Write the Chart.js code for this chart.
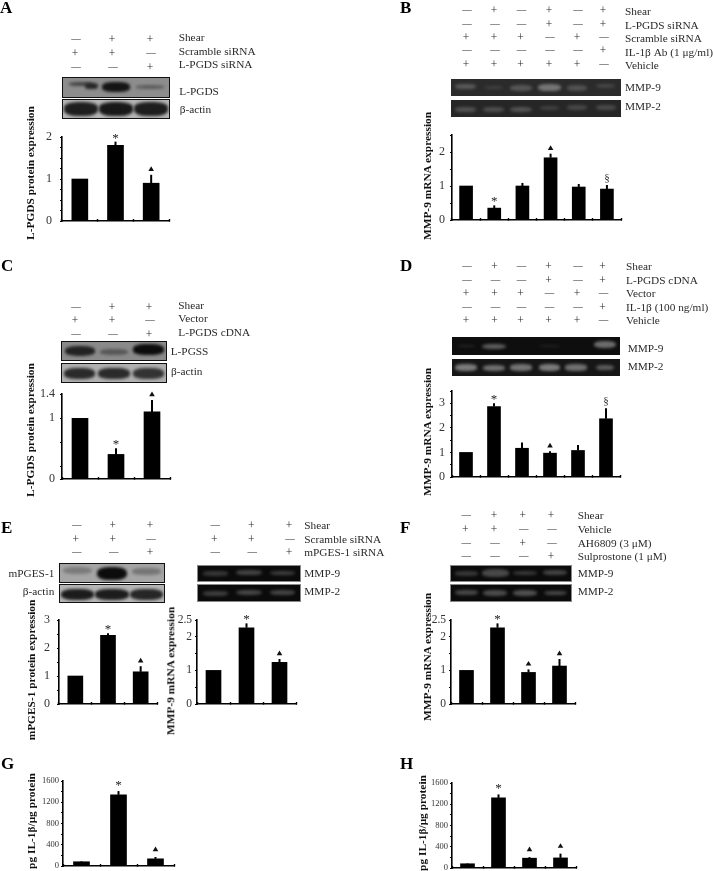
<!DOCTYPE html>
<html><head><meta charset="utf-8">
<script src="https://cdn.jsdelivr.net/npm/chart.js@4"></script>
<style>
html,body{margin:0;padding:0;background:#fff;width:713px;height:871px;overflow:hidden}
#fig{position:relative;width:713px;height:871px;font-family:"Liberation Serif",serif;color:#2a2a2a;background:#fff;filter:blur(.4px)}
#fig canvas{position:absolute}
.t{position:absolute;white-space:nowrap;line-height:1;transform:translateY(-50%)}
.c{transform:translate(-50%,-50%)}
.r{transform:translate(-100%,-50%)}
.v{font-weight:bold;color:#111;transform:translate(-50%,-50%) rotate(-90deg)}
.blot{position:absolute;overflow:hidden;box-sizing:border-box}
.blot i{position:absolute;display:block;filter:blur(1.6px);border-radius:40%}
</style></head><body><div id="fig"></div>
<script>
/* ---------- data ---------- */
const lanes3 = ['Lane 1','Lane 2','Lane 3'];
const lanes4 = ['Lane 1','Lane 2','Lane 3','Lane 4'];
const lanes6 = ['Lane 1','Lane 2','Lane 3','Lane 4','Lane 5','Lane 6'];

const aValues = [1, 1.8, 0.9];            const aTops = [1, 1.89, 1.1];
const aMarks  = ['', '*', '▲'];           const aTicks = [0,0.25,0.5,0.75,1,1.25,1.5,1.75,2]; const aLabels = [0,1,2];

const bValues = [1, 0.35, 1, 1.83, 0.97, 0.91]; const bTops = [1, 0.43, 1.09, 1.95, 1.06, 1.03];
const bMarks  = ['', '*', '', '▲', '', '§'];    const bTicks = [0,0.5,1,1.5,2,2.5]; const bLabels = [0,1,2];

const cValues = [1, 0.405, 1.105];        const cTops = [1, 0.505, 1.3];
const cMarks  = ['', '*', '▲'];           const cTicks = [0,0.2,0.6,1,1.4]; const cLabels = [0,1,1.4];

const dValues = [1, 2.87, 1.17, 0.97, 1.08, 2.37]; const dTops = [1, 3.0, 1.4, 1.05, 1.3, 2.8];
const dMarks  = ['', '*', '', '▲', '', '§'];       const dTicks = [0,0.5,1,1.5,2,2.5,3,3.5]; const dLabels = [0,1,2,3];

const e1Values = [1, 2.45, 1.15];         const e1Tops = [1, 2.53, 1.35];
const e1Marks  = ['', '*', '▲'];          const e1Ticks = [0,0.5,1,1.5,2,2.5,3]; const e1Labels = [0,1,2,3];

const e2Values = [1, 2.27, 1.24];         const e2Tops = [1, 2.4, 1.34];
const e2Marks  = ['', '*', '▲'];          const e2Ticks = [0,0.5,1,1.5,2,2.5]; const e2Labels = [0,1,2,2.5];

const fValues = [1, 2.27, 0.94, 1.13];    const fTops = [1, 2.4, 1.03, 1.34];
const fMarks  = ['', '*', '▲', '▲'];      const fTicks = [0,0.5,1,1.5,2,2.5]; const fLabels = [0,1,2,2.5];

const gValues = [80, 1340, 135];          const gTops = [92, 1410, 170];
const gMarks  = ['', '*', '▲'];           const gTicks = [0,200,400,600,800,1000,1200,1400,1600]; const gLabels = [0,400,800,1200,1600];

const hValues = [80, 1320, 185, 190];     const hTops = [90, 1385, 205, 270];
const hMarks  = ['', '*', '▲', '▲'];      const hTicks = [0,200,400,600,800,1000,1200,1400,1600]; const hLabels = [0,400,800,1200,1600];

const aRows = ['Shear','Scramble siRNA','L-PGDS siRNA'];
const aSigns = ['-++','++-','--+'];
const bRows = ['Shear','L-PGDS siRNA','Scramble siRNA','IL-1β Ab (1 μg/ml)','Vehicle'];
const bSigns = ['-+-+-+','---+-+','+++-+-','-----+','+++++-'];
const cRows = ['Shear','Vector','L-PGDS cDNA'];
const cSigns = ['-++','++-','--+'];
const dRows = ['Shear','L-PGDS cDNA','Vector','IL-1β (100 ng/ml)','Vehicle'];
const dSigns = ['-+-+-+','---+-+','+++-+-','-----+','+++++-'];
const e1Signs = ['-++','++-','--+'];
const e2Rows = ['Shear','Scramble siRNA','mPGES-1 siRNA'];
const e2Signs = ['-++','++-','--+'];
const fRows = ['Shear','Vehicle','AH6809 (3 μM)','Sulprostone (1 μM)'];
const fSigns = ['-+++','++--','--+-','---+'];

/* ---------- helpers ---------- */
const fig = document.getElementById('fig');
const rowSize = 11.3, titleSize = 11.4;
function txt(x,y,s,size,cls,extra){
  const d=document.createElement('div');
  d.className='t '+(cls||'');
  d.textContent=s;
  d.style.left=x+'px';d.style.top=y+'px';d.style.fontSize=size+'px';
  if(extra)Object.assign(d.style,extra);
  fig.appendChild(d);return d;
}
function matrix(signs,cols,ys){
  signs.forEach((row,i)=>[...row].forEach((c,j)=>{
    if(c==='-') txt(cols[j],ys[i],'—',9.5,'c');
    else txt(cols[j]-1,ys[i],'+',11.5,'c');
  }));
}
function rows(labels,x,ys){labels.forEach((s,i)=>txt(x,ys[i],s,rowSize));}
function blot(x,y,w,h,bg,border,bands){
  const d=document.createElement('div');d.className='blot';
  d.style.cssText=`left:${x}px;top:${y}px;width:${w}px;height:${h}px;background:${bg};border:${border}`;
  bands.forEach(b=>{
    const i=document.createElement('i');
    i.style.cssText=`left:${(b[0]-b[2]/2)*100}%;top:${(b[1]-b[3]/2)*100}%;width:${b[2]*100}%;height:${b[3]*100}%;background:${b[4]}`;
    d.appendChild(i);
  });
  fig.appendChild(d);
}
const errorMarks={
  id:'errorMarks',
  afterDatasetsDraw(ch){
    const o=ch.options.plugins.errorMarks, xs=ch.scales.x, ys=ch.scales.y, c=ch.ctx;
    c.save();
    o.tops.forEach((top,i)=>{
      const x=xs.getPixelForValue(i), y0=ys.getPixelForValue(o.values[i]), y1=ys.getPixelForValue(top);
      c.strokeStyle='#000';c.lineWidth=o.stem;
      if(y0-y1>0.5){c.beginPath();c.moveTo(x,y0);c.lineTo(x,y1);c.stroke();}
      const m=o.marks[i];
      if(m==='▲'){
        const my=y1-o.gap;c.fillStyle='#111';c.beginPath();c.moveTo(x,my-2.5);c.lineTo(x-2.8,my+2.2);c.lineTo(x+2.8,my+2.2);c.closePath();c.fill();
      }else if(m==='*'){
        c.fillStyle='#222';c.font='13px "Liberation Serif"';c.textAlign='center';c.textBaseline='alphabetic';c.fillText(m,x,y1-o.gap+6);
      }else if(m==='§'){
        c.fillStyle='#333';c.font='11px "Liberation Serif"';c.textAlign='center';c.textBaseline='alphabetic';c.fillText(m,x,y1-o.gap+2);
      }
    });
    c.restore();
  }
};
function flat(s){s.paddingTop=0;s.paddingBottom=0;s.paddingLeft=0;s.paddingRight=0;}
function bars(p){
  const ml=p.ml||36, mb=6, pt=22, pr=6;
  const cv=document.createElement('canvas');
  const W=ml+(p.right-p.left)+pr, H=pt+(p.base-p.top)+mb;
  cv.width=W;cv.height=H;cv.style.cssText=`left:${p.left-ml}px;top:${p.top-pt}px;width:${W}px;height:${H}px`;
  fig.appendChild(cv);
  new Chart(cv,{
    type:'bar',
    data:{labels:p.cats,datasets:[{data:p.values,backgroundColor:'#000',borderWidth:0,barThickness:p.bar}]},
    options:{
      responsive:false,animation:false,devicePixelRatio:1,
      layout:{padding:{top:pt,right:pr,left:0,bottom:0}},
      plugins:{legend:{display:false},tooltip:{enabled:false},
        errorMarks:{values:p.values,tops:p.tops,marks:p.marks,stem:p.stem||2,gap:p.gap||6}},
      scales:{
        x:{type:'category',offset:true,
           afterFit:s=>{s.height=mb;flat(s);},
           border:{color:'#000',width:1.6},
           grid:{offset:true,drawOnChartArea:false,drawTicks:true,tickLength:-2,tickWidth:1.4,tickColor:'#000'},
           ticks:{display:false}},
        y:{type:'linear',min:0,max:p.max,
           afterFit:s=>{s.width=ml;flat(s);},
           afterBuildTicks:s=>{s.ticks=p.ticks.map(v=>({value:v}));},
           border:{color:'#000',width:1.6},
           grid:{drawOnChartArea:false,drawTicks:true,tickLength:2,tickWidth:1,tickColor:'#000'},
           ticks:{autoSkip:false,padding:p.pad,color:'#333',font:{family:'"Liberation Serif"',size:p.font||12},
                  callback:v=>p.labels.includes(v)?String(v):''}}
      }
    },
    plugins:[errorMarks]
  });
}

/* ---------- panel letters ---------- */
[['A',0,7],['B',400,7],['C',1,265],['D',400,265],['E',1,527],['F',400,527],['G',1,763],['H',400,763]]
 .forEach(a=>txt(a[1],a[2],a[0],17,'',{fontWeight:'bold',color:'#000'}));

/* ---------- blots ---------- */
const wb='1.5px solid #111';
// A
matrix(aSigns,[76,113,151],[40,54,67.5]); rows(aRows,178.7,[38,52,65]);
blot(62,77,108,21,'#8d8d8d',wb,[[.17,.32,.22,.24,'#444'],[.27,.42,.12,.3,'#262626'],[.5,.48,.27,.5,'#141414'],[.82,.48,.26,.18,'#5c5c5c']]);
blot(62,99,108,20,'#b5b5b5',wb,[[.17,.5,.33,.75,'#1e1e1e'],[.5,.5,.32,.75,'#181818'],[.83,.5,.32,.75,'#1e1e1e']]);
txt(179.3,92.3,'L-PGDS',rowSize);txt(179.7,110,'β-actin',rowSize);
// B
matrix(bSigns,[467,495,521.5,550,578,604],[11.3,24.7,38,51.3,65]); rows(bRows,625,[12.3,26,39.3,52.7,66.3]);
blot(451,79,170,17,'#2b2b2b','0',[[.085,.45,.12,.3,'#5a5a5a'],[.25,.5,.11,.2,'#424242'],[.41,.52,.13,.35,'#565656'],[.58,.5,.14,.42,'#757575'],[.74,.52,.12,.33,'#525252'],[.91,.42,.11,.25,'#474747']]);
blot(451,100,170,17,'#262626','0',[[.085,.55,.12,.3,'#525252'],[.25,.55,.12,.3,'#4e4e4e'],[.41,.55,.13,.32,'#545454'],[.58,.45,.11,.22,'#424242'],[.74,.45,.12,.27,'#484848'],[.91,.45,.12,.28,'#4a4a4a']]);
txt(625,88.3,'MMP-9',rowSize);txt(625,106.7,'MMP-2',rowSize);
// C
matrix(cSigns,[76,113,150],[308,321.3,335.3]); rows(cRows,178.3,[305.7,319.3,332.7]);
blot(61,341,106,20,'#8a8a8a',wb,[[.17,.52,.29,.55,'#222'],[.5,.55,.26,.32,'#575757'],[.83,.42,.3,.6,'#0c0c0c']]);
blot(61,363,106,20,'#b0b0b0',wb,[[.17,.52,.3,.6,'#2a2a2a'],[.5,.52,.3,.6,'#2a2a2a'],[.83,.52,.3,.6,'#333']]);
txt(170.7,351.7,'L-PGSS',rowSize);txt(171,372.3,'β-actin',rowSize);
// D
matrix(dSigns,[467,495.5,521.5,549.5,578,603.5],[266.7,280.7,294.3,308,321.3]); rows(dRows,626,[266.7,280.7,294.3,308,321]);
blot(452,337,168,18,'#0e0e0e','0',[[.085,.5,.1,.12,'#262626'],[.25,.52,.14,.3,'#5e5e5e'],[.58,.5,.12,.12,'#222'],[.91,.42,.13,.42,'#6c6c6c']]);
blot(452,359,168,17,'#161616','0',[[.085,.5,.13,.4,'#7c7c7c'],[.25,.52,.13,.32,'#707070'],[.41,.5,.13,.38,'#747474'],[.58,.5,.13,.4,'#7c7c7c'],[.74,.5,.13,.36,'#707070'],[.91,.52,.11,.3,'#5c5c5c']]);
txt(627.7,349.3,'MMP-9',rowSize);txt(627.7,367.3,'MMP-2',rowSize);
// E left
matrix(e1Signs,[76.7,113.7,151],[526,539.7,553]);
blot(59,563,106,20,'#a5a5a5',wb,[[.17,.35,.28,.42,'#7a7a7a'],[.5,.55,.28,.72,'#0c0c0c'],[.83,.42,.28,.38,'#757575']]);
blot(59,584,106,19,'#b5b5b5',wb,[[.17,.55,.32,.65,'#1c1c1c'],[.5,.55,.32,.65,'#1c1c1c'],[.83,.55,.32,.65,'#262626']]);
txt(54.3,573.7,'mPGES-1',rowSize,'r');txt(54.3,592.3,'β-actin',rowSize,'r');
// E right
matrix(e2Signs,[215.3,252.3,290],[526.3,540,553.3]); rows(e2Rows,304.3,[526.3,540,553.3]);
blot(197,565,104,17,'#0b0b0b','1px solid #888',[[.17,.5,.25,.28,'#383838'],[.5,.45,.25,.35,'#444'],[.83,.45,.25,.3,'#3e3e3e']]);
blot(197,584,104,18,'#0b0b0b','1px solid #888',[[.17,.52,.25,.3,'#3e3e3e'],[.5,.48,.25,.35,'#484848'],[.83,.48,.25,.33,'#444']]);
txt(304.3,574,'MMP-9',rowSize);txt(304.3,592.3,'MMP-2',rowSize);
// F
matrix(fSigns,[466.3,495,523.7,552],[516.3,530,543.7,557.3]); rows(fRows,577.7,[516.3,530,543.7,557.3]);
blot(450,565,122,17,'#0b0b0b','1px solid #888',[[.13,.5,.19,.28,'#383838'],[.37,.47,.22,.5,'#484848'],[.62,.47,.2,.28,'#3a3a3a'],[.87,.45,.2,.34,'#444']]);
blot(450,584,122,18,'#0b0b0b','1px solid #888',[[.13,.48,.19,.3,'#484848'],[.37,.5,.2,.34,'#4c4c4c'],[.62,.5,.2,.34,'#505050'],[.87,.5,.19,.3,'#484848']]);
txt(577.7,574,'MMP-9',rowSize);txt(577.7,592,'MMP-2',rowSize);

/* ---------- charts ---------- */
bars({cats:lanes3,values:aValues,tops:aTops,marks:aMarks,ticks:aTicks,labels:aLabels,left:62,right:169,top:137,base:221,max:2,bar:16,pad:8});
bars({cats:lanes6,values:bValues,tops:bTops,marks:bMarks,ticks:bTicks,labels:bLabels,left:452,right:621,top:135,base:220,max:2.5,bar:13,pad:5});
bars({cats:lanes3,values:cValues,tops:cTops,marks:cMarks,ticks:cTicks,labels:cLabels,left:62,right:170,top:394,base:479,max:1.4,bar:16,pad:5});
bars({cats:lanes6,values:dValues,tops:dTops,marks:dMarks,ticks:dTicks,labels:dLabels,left:452,right:620,top:391,base:477,max:3.5,bar:13,pad:5});
bars({cats:lanes3,values:e1Values,tops:e1Tops,marks:e1Marks,ticks:e1Ticks,labels:e1Labels,left:59,right:157,top:620,base:704,max:3,bar:15,pad:7});
bars({cats:lanes3,values:e2Values,tops:e2Tops,marks:e2Marks,ticks:e2Ticks,labels:e2Labels,left:197,right:296,top:620,base:704,max:2.5,bar:15,pad:3,font:11.5});
bars({cats:lanes4,values:fValues,tops:fTops,marks:fMarks,ticks:fTicks,labels:fLabels,left:451,right:575,top:620,base:704,max:2.5,bar:14,pad:3,font:11.5});
bars({cats:lanes3,values:gValues,tops:gTops,marks:gMarks,ticks:gTicks,labels:gLabels,left:63,right:174,top:781,base:866,max:1600,bar:16,pad:2,font:8.5,gap:8});
bars({cats:lanes4,values:hValues,tops:hTops,marks:hMarks,ticks:hTicks,labels:hLabels,left:452,right:576,top:783,base:868,max:1600,bar:14,pad:2,font:8.5,gap:8});

/* ---------- y-axis titles ---------- */
txt(31,173,'L-PGDS protein expression',titleSize,'v');
txt(428,175.5,'MMP-9 mRNA expression',titleSize,'v');
txt(31,430,'L-PGDS protein expression',titleSize,'v');
txt(428,432,'MMP-9 mRNA expression',titleSize,'v');
txt(32,670,'mPGES-1 protein expression',titleSize,'v');
txt(171,671,'MMP-9 mRNA expression',titleSize,'v');
txt(428,657,'MMP-9 mRNA expression',titleSize,'v');
txt(32,821,'pg IL-1β/μg protein',titleSize,'v');
txt(423,823,'pg IL-1β/μg protein',titleSize,'v');
</script></body></html>
